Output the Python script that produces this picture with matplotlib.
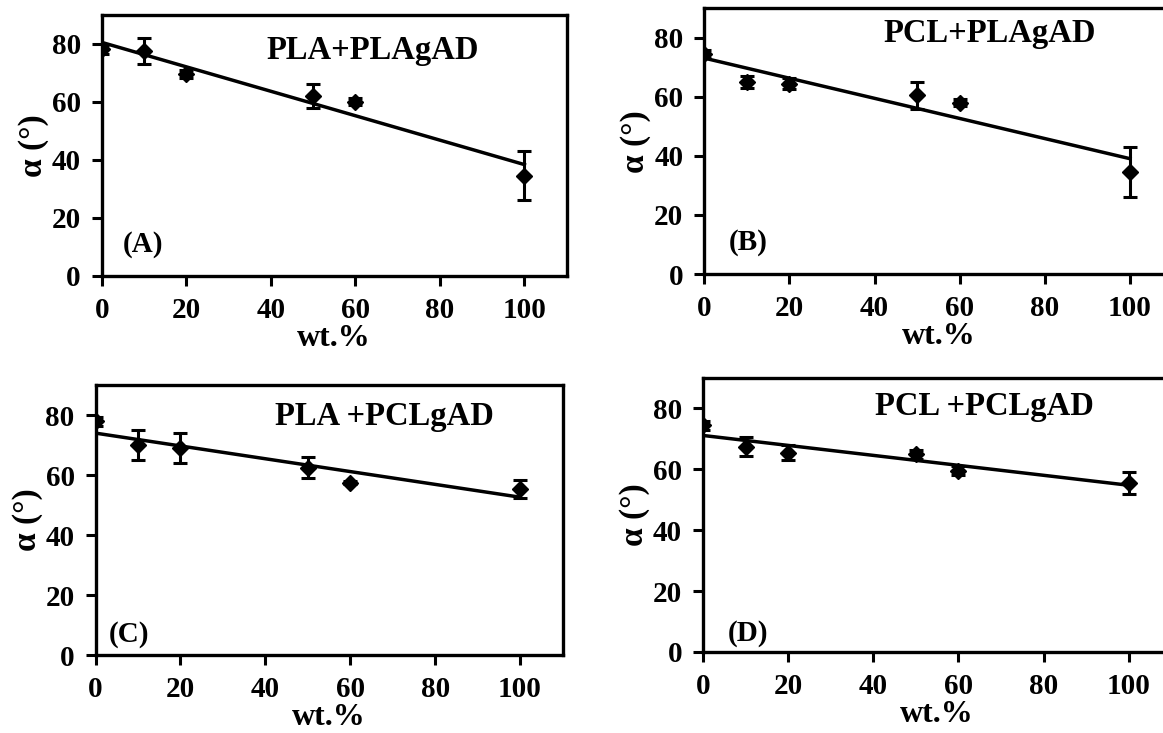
import numpy as np
import matplotlib
matplotlib.use("Agg")
import matplotlib.pyplot as plt

plt.rcParams['font.family'] = ['Liberation Serif', 'DejaVu Serif']
plt.rcParams['font.weight'] = 'bold'
plt.rcParams['mathtext.default'] = 'regular'

# ---- data ----
wt = [0, 10, 20, 50, 60, 100]

titles = ["PLA+PLAgAD", "PCL+PLAgAD", "PLA +PCLgAD", "PCL +PCLgAD"]
letters = ["(A)", "(B)", "(C)", "(D)"]

alpha_A = [78, 77.5, 69.5, 62, 60, 34.5]
err_A = [1.5, 4.5, 1.5, 4.2, 1.2, 8.5]
alpha_B = [74.5, 65, 64.5, 60.5, 58, 34.5]
err_B = [1.5, 2.0, 2.0, 4.5, 1.2, 8.5]
alpha_C = [78, 70, 69, 62.5, 57.5, 55.5]
err_C = [1.5, 5.0, 5.0, 3.5, 0.5, 3.0]
alpha_D = [74.5, 67.5, 65.5, 65, 59.5, 55.5]
err_D = [1.5, 3.0, 2.5, 1.5, 1.5, 3.5]

series = [alpha_A, alpha_B, alpha_C, alpha_D]
errors = [err_A, err_B, err_C, err_D]

xticks = [0, 20, 40, 60, 80, 100]
yticks = [0, 20, 40, 60, 80]

W, H = 1163, 733
fig = plt.figure(figsize=(W / 100, H / 100), dpi=100)

# axes boxes in pixels: left, top, width, bottom(y=0)
boxes = [
    (101.7, 14.5, 465.0, 276.0),
    (704.3, 8.3, 468.3, 274.0),
    (95.5, 385.0, 467.0, 655.0),
    (703.0, 378.0, 468.3, 652.0),
]
title_pos = [(64, 77.5), (67, 81.3), (68, 79.6), (66, 80.5)]
letter_pos = [(5, 11), (5.7, 10.7), (3.2, 6.7), (5.7, 6.0)]

for i in range(4):
    l, t, w, b = boxes[i]
    ax = fig.add_axes([l / W, 1 - b / H, w / W, (b - t) / H])
    y = np.array(series[i])
    x = np.array(wt)
    ax.errorbar(x, y, yerr=errors[i], fmt='D', color='black', ms=8.5,
                elinewidth=2.2, capsize=5, capthick=2.2, zorder=3)
    k, c = np.polyfit(x, y, 1)
    xf = np.array([min(wt), max(wt)])
    ax.plot(xf, k * xf + c, color='black', lw=2.5, zorder=2)
    ax.set_xlim(0, 110)
    ax.set_ylim(0, 90)
    ax.set_xticks(xticks)
    ax.set_yticks(yticks)
    ax.tick_params(direction='out', length=7, width=2.2, labelsize=21)
    ax.tick_params(axis='x', pad=8)
    ax.tick_params(axis='y', pad=8)
    for lab in ax.get_xticklabels() + ax.get_yticklabels():
        lab.set_fontweight('bold')
    for s in ax.spines.values():
        s.set_linewidth(2.4)
    ax.set_xlabel("wt.%", fontsize=23, fontweight='bold', labelpad=0)
    ax.set_ylabel("α (°)", fontsize=24, fontweight='bold', labelpad=2)
    tx, ty = title_pos[i]
    ax.text(tx, ty, titles[i], fontsize=23.5, fontweight='bold', ha='center', va='center')
    lx, ly = letter_pos[i]
    ax.text(lx, ly, letters[i], fontsize=21, fontweight='bold', ha='left', va='center')

fig.savefig("out.png", dpi=100)
